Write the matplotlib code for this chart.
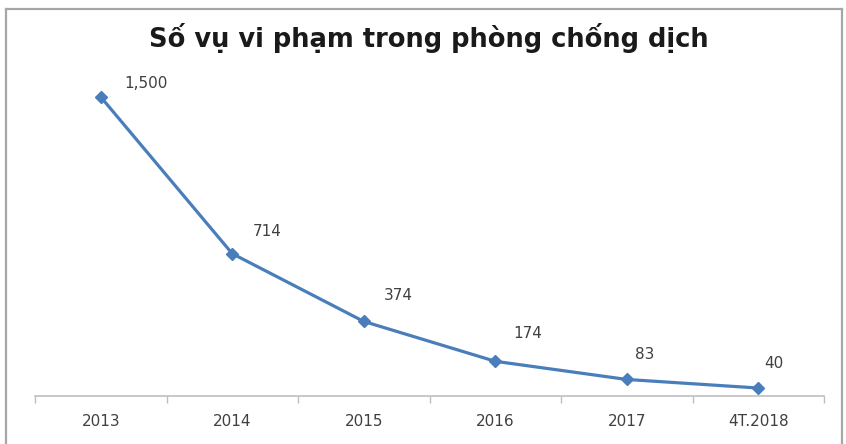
import numpy as np
import matplotlib.pyplot as plt
from matplotlib.lines import Line2D

# violation counts per period
periods = ['2013', '2014', '2015', '2016', '2017', '4T.2018']
cases = [1500, 714, 374, 174, 83, 40]
case_labels = ['1,500', '714', '374', '174', '83', '40']

# pixel offsets of each value label from its point (left edge, vertical centre)
label_offsets = [(24, 13), (20, 22), (20, 26), (18, 28), (8, 25), (6, 25)]

W, H = 846, 444
fig = plt.figure(figsize=(W / 100, H / 100), dpi=100)
fig.patch.set_facecolor('white')

# outer chart frame
frame_kw = dict(color='#a6a6a6', lw=1.6, transform=fig.transFigure)
fig.add_artist(Line2D([6 / W, 6 / W], [0, 1 - 9 / H], **frame_kw))
fig.add_artist(Line2D([6 / W, 842 / W], [1 - 9 / H, 1 - 9 / H], **frame_kw))
fig.add_artist(Line2D([842 / W, 842 / W], [0, 1 - 9 / H], **frame_kw))

ax = fig.add_axes([35 / W, 1 - 396 / H, (824 - 35) / W, (396 - 77) / H])
x = np.arange(len(periods))
ax.plot(x, cases, color='#4a7ebb', lw=2.3, marker='D', ms=6.5,
        markerfacecolor='#4a7ebb', markeredgecolor='#4a7ebb', zorder=3)

for xi, yi, txt, off in zip(x, cases, case_labels, label_offsets):
    ax.annotate(txt, (xi, yi), xytext=off, textcoords='offset pixels',
                fontsize=11, color='#404040', ha='left', va='center')

ax.set_xlim(-0.5, len(periods) - 0.5)
ax.set_ylim(0, 1600)
ax.set_yticks([])
for s in ['left', 'right', 'top']:
    ax.spines[s].set_visible(False)
ax.spines['bottom'].set_color('#bfbfbf')
ax.spines['bottom'].set_linewidth(1.2)

ax.set_xticks(np.arange(-0.5, len(periods), 1))
ax.set_xticklabels([])
ax.tick_params(axis='x', which='major', length=5, width=1, color='#bfbfbf', direction='out')
ax.set_xticks(x, minor=True)
ax.set_xticklabels(periods, minor=True)
ax.tick_params(axis='x', which='minor', length=0, pad=13, labelsize=11, labelcolor='#404040')

fig.text(429 / W, 1 - 47 / H, 'Số vụ vi phạm trong phòng chống dịch',
         ha='center', va='baseline', fontsize=18.5, fontweight='bold',
         family='DejaVu Sans', color='#1a1a1a')

fig.savefig('out.png', dpi=100, facecolor='white')
